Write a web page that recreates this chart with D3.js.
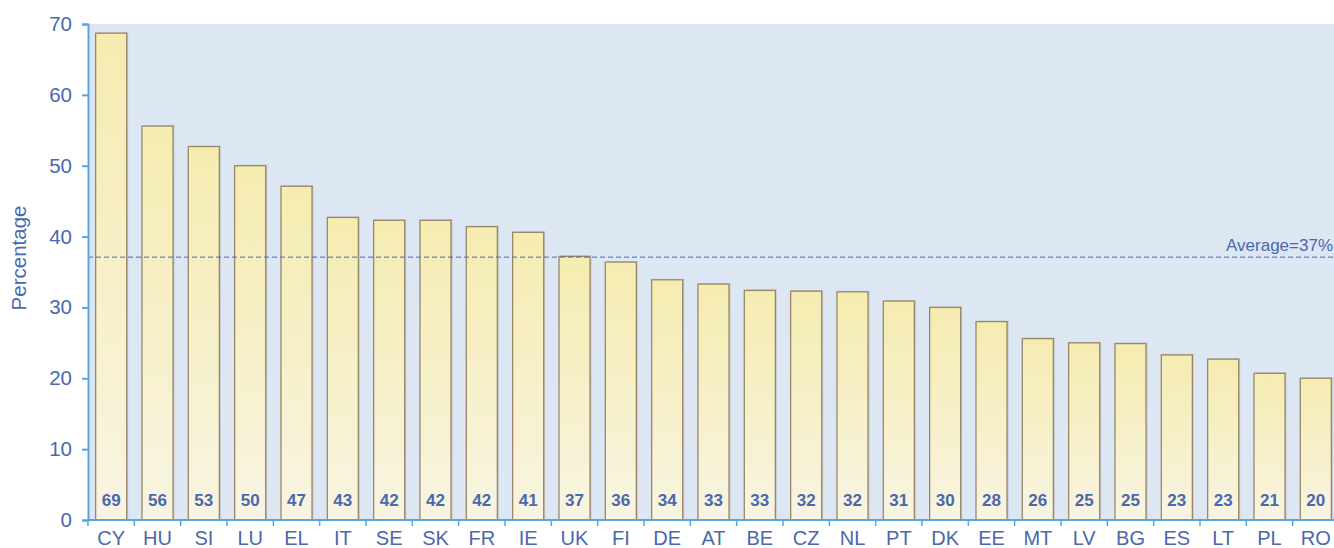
<!DOCTYPE html>
<html>
<head>
<meta charset="utf-8">
<script src="https://cdn.jsdelivr.net/npm/d3@7"></script>
<style>
  body { margin: 0; background: #fff; }
  svg { display: block; font-family: "Liberation Sans", Arial, sans-serif; }
</style>
</head>
<body>
<div id="chart"></div>
<script>
// data
const countries = ["CY","HU","SI","LU","EL","IT","SE","SK","FR","IE","UK","FI","DE","AT","BE","CZ","NL","PT","DK","EE","MT","LV","BG","ES","LT","PL","RO"];
const values = [68.7, 55.6, 52.7, 50.0, 47.1, 42.7, 42.3, 42.3, 41.4, 40.6, 37.2, 36.4, 33.9, 33.3, 32.4, 32.3, 32.2, 30.9, 30.0, 28.0, 25.6, 25.0, 24.9, 23.3, 22.7, 20.7, 20.0];
const labels = ["69","56","53","50","47","43","42","42","42","41","37","36","34","33","33","32","32","31","30","28","26","25","25","23","23","21","20"];
const yTicks = [0, 10, 20, 30, 40, 50, 60, 70];
const average = 37.1;
const averageLabel = "Average=37%";

const W = 1334, H = 548;
const margin = {top: 24, right: -5, bottom: 28, left: 88};
const width = W - margin.left - margin.right;
const height = H - margin.top - margin.bottom;

const textColor = "#4a69ad";
const axisColor = "#5aa5e0";

const svg = d3.select("#chart").append("svg")
    .attr("width", W)
    .attr("height", H);

const defs = svg.append("defs");
const grad = defs.append("linearGradient")
    .attr("id", "barGrad")
    .attr("x1", 0).attr("y1", 0).attr("x2", 0).attr("y2", 1);
grad.append("stop").attr("offset", "0%").attr("stop-color", "#f5ecb0");
grad.append("stop").attr("offset", "100%").attr("stop-color", "#f8f4e2");

const g = svg.append("g")
    .attr("transform", `translate(${margin.left}, ${margin.top})`);

// plot background
g.append("rect")
    .attr("width", width)
    .attr("height", height)
    .attr("fill", "#dce7f3");

const x = d3.scaleBand()
    .domain(countries)
    .range([0, width])
    .paddingInner(0.33)
    .paddingOuter(0.165);

const y = d3.scaleLinear()
    .domain([0, 70])
    .range([height, 0]);

const data = countries.map((c, i) => ({c, v: values[i], l: labels[i]}));

// bar shadows
g.selectAll("rect.shadow")
  .data(data)
  .join("rect")
    .attr("class", "shadow")
    .attr("x", d => x(d.c) + 1.5)
    .attr("y", d => y(d.v) - 1)
    .attr("width", x.bandwidth())
    .attr("height", d => height - y(d.v) + 1)
    .attr("fill", "#a9a9a0")
    .attr("opacity", 0.45);

// bars
g.selectAll("rect.bar")
  .data(data)
  .join("rect")
    .attr("class", "bar")
    .attr("x", d => x(d.c))
    .attr("y", d => y(d.v))
    .attr("width", x.bandwidth())
    .attr("height", d => height - y(d.v))
    .attr("fill", "url(#barGrad)")
    .attr("stroke", "#9b8768")
    .attr("stroke-width", 1.3);

// value labels
g.selectAll("text.val")
  .data(data)
  .join("text")
    .attr("class", "val")
    .attr("x", d => x(d.c) + x.bandwidth() / 2)
    .attr("y", height - 14)
    .attr("text-anchor", "middle")
    .attr("fill", textColor)
    .attr("font-size", 17)
    .attr("font-weight", "bold")
    .text(d => d.l);

// average line
g.append("line")
    .attr("x1", 0)
    .attr("x2", width)
    .attr("y1", y(average))
    .attr("y2", y(average))
    .attr("stroke", "#4a6aa5")
    .attr("stroke-width", 1)
    .attr("stroke-dasharray", "5,3");

g.append("text")
    .attr("x", W - margin.left - 1)
    .attr("y", y(average) - 6.5)
    .attr("text-anchor", "end")
    .attr("fill", textColor)
    .attr("font-size", 17)
    .text(averageLabel);

// y axis
const yAxis = g.append("g")
    .call(d3.axisLeft(y).tickValues(yTicks).tickSize(6).tickPadding(10));
yAxis.select(".domain").attr("stroke", axisColor).attr("stroke-width", 2);
yAxis.selectAll(".tick line").attr("stroke", axisColor).attr("stroke-width", 2);
yAxis.selectAll(".tick text")
    .attr("fill", textColor)
    .attr("font-size", 20.5);

// x axis with ticks on category boundaries
const xAxisG = g.append("g")
    .attr("transform", `translate(0, ${height})`);
xAxisG.append("line")
    .attr("x1", 0).attr("x2", width)
    .attr("stroke", axisColor).attr("stroke-width", 2);
const step = x.step();
const bounds = d3.range(countries.length + 1).map(i => x(countries[0]) - x.paddingInner() * step / 2 + i * step);
xAxisG.selectAll("line.tick")
  .data(bounds)
  .join("line")
    .attr("class", "tick")
    .attr("x1", d => d).attr("x2", d => d)
    .attr("y1", 0).attr("y2", 6)
    .attr("stroke", axisColor).attr("stroke-width", 1.5);
xAxisG.selectAll("text")
  .data(countries)
  .join("text")
    .attr("x", d => x(d) + x.bandwidth() / 2)
    .attr("y", 25)
    .attr("text-anchor", "middle")
    .attr("fill", textColor)
    .attr("font-size", 20)
    .text(d => d);

// y axis label
svg.append("text")
    .attr("transform", `translate(26, 258) rotate(-90)`)
    .attr("text-anchor", "middle")
    .attr("fill", textColor)
    .attr("font-size", 20.5)
    .text("Percentage");
</script>
</body>
</html>
